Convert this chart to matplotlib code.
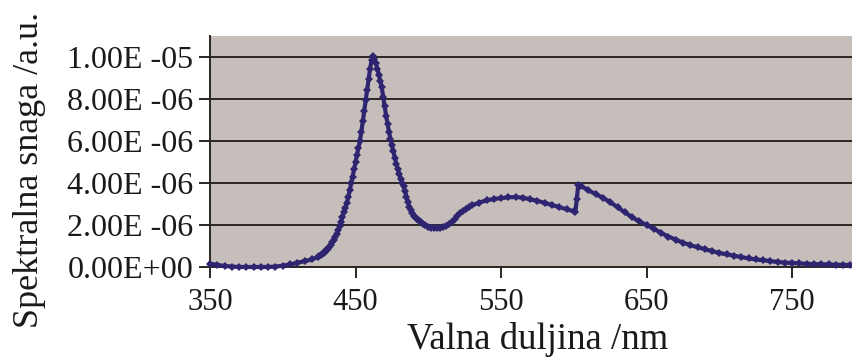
import matplotlib
matplotlib.use("Agg")
import matplotlib.pyplot as plt
import numpy as np

# wavelength (nm) and spectral power (x 1e-6 a.u.)
wavelength = [350, 355, 360, 365, 370, 375, 380, 385, 390, 395, 400, 405, 410, 415, 420, 424,
              425, 426, 427, 428, 429, 430, 431, 432, 433, 434, 435,
              436, 437, 438, 439, 440, 441, 442, 443, 444, 445, 446, 447, 448, 449,
              450, 451, 452, 453, 454, 455, 456, 457, 458, 459, 460, 461, 462, 463, 464,
              465, 466, 467, 468, 469, 470, 471, 472, 473, 474, 475, 476, 477, 478, 479,
              480, 481, 482, 483, 484, 485, 486, 487, 488, 489, 490, 491, 492, 493, 494,
              496, 498, 500, 502, 504, 506, 508, 510, 512, 514, 516, 518, 520, 522, 524,
              526, 528, 530, 535, 540, 545, 550, 555, 560, 565, 570, 575, 580, 585, 590,
              595, 600, 601, 602, 603, 605, 610, 615, 620, 625, 630, 635, 640, 645, 650,
              655, 660, 665, 670, 675, 680, 685, 690, 695, 700, 705, 710, 715, 720, 725,
              730, 735, 740, 745, 750, 755, 760, 765, 770, 775, 780, 785, 790, 795, 800]
power = [0.15, 0.10, 0.05, 0.02, 0.0, 0.0, 0.0, 0.0, 0.0, 0.02, 0.06, 0.12, 0.20, 0.28, 0.36, 0.48,
         0.52, 0.56, 0.60, 0.65, 0.72, 0.80, 0.88, 0.97, 1.07, 1.18, 1.30,
         1.42, 1.58, 1.75, 1.94, 2.15, 2.38, 2.62, 2.83, 3.05, 3.35, 3.65, 3.98, 4.30, 4.65,
         5.00, 5.35, 5.68, 6.00, 6.45, 6.95, 7.45, 7.95, 8.45, 8.95, 9.45, 9.85, 10.05, 9.90, 9.70,
         9.45, 9.15, 8.85, 8.55, 8.10, 7.65, 7.20, 6.80, 6.42, 6.08, 5.80, 5.50, 5.20, 4.90, 4.65,
         4.42, 4.20, 4.02, 3.85, 3.60, 3.35, 3.10, 2.88, 2.70, 2.55, 2.45, 2.36, 2.28, 2.22, 2.17,
         2.07, 1.98, 1.92, 1.88, 1.86, 1.85, 1.85, 1.90, 1.97, 2.05, 2.15, 2.30, 2.45, 2.58, 2.68,
         2.77, 2.85, 2.93, 3.07, 3.17, 3.24, 3.28, 3.32, 3.33, 3.30, 3.22, 3.15, 3.05, 2.95, 2.85,
         2.75, 2.65, 2.60, 3.24, 3.90, 3.85, 3.65, 3.47, 3.30, 3.08, 2.85, 2.60, 2.37, 2.17, 2.00,
         1.82, 1.62, 1.45, 1.30, 1.16, 1.04, 0.94, 0.85, 0.75, 0.67, 0.60, 0.54, 0.47, 0.41, 0.36,
         0.32, 0.28, 0.24, 0.21, 0.19, 0.17, 0.15, 0.14, 0.13, 0.12, 0.11, 0.10, 0.10, 0.09, 0.09]

x_ticks = [350, 450, 550, 650, 750]
y_ticks = [0, 2e-6, 4e-6, 6e-6, 8e-6, 1e-5]
y_labels = ["0.00E+00", "2.00E -06", "4.00E -06", "6.00E -06", "8.00E -06", "1.00E -05"]

plt.rcParams['font.family'] = ['Liberation Serif', 'DejaVu Serif']

fig = plt.figure(figsize=(8.53, 3.6), dpi=100)
ax = fig.add_axes([210 / 853, 93 / 360, 655 / 853, 231 / 360])
ax.set_facecolor('#c6beba')

y = np.array(power) * 1e-6
ax.plot(wavelength, y, color='#2e2470', lw=3.0, marker='D', markersize=4.2,
        markeredgewidth=0, clip_on=False, zorder=3)

ax.set_xlim(350, 800)
ax.set_ylim(0, 1.1e-5)
ax.set_xticks(x_ticks)
ax.set_yticks(y_ticks)
ax.set_yticklabels(y_labels)
ax.grid(axis='y', color='#2a2622', lw=1.4)
ax.set_axisbelow(True)

for side in ['top', 'right']:
    ax.spines[side].set_visible(False)
for side in ['left', 'bottom']:
    ax.spines[side].set_color('#2a2622')
    ax.spines[side].set_linewidth(1.4)

ax.tick_params(axis='both', direction='out', length=8, width=1.4, color='#2a2622',
               labelcolor='#1a1a1a')
ax.tick_params(axis='y', labelsize=23, pad=4)
ax.tick_params(axis='x', labelsize=22, pad=7)

ax.set_xlabel("Valna duljina /nm", fontsize=26.5, color='#1a1a1a', labelpad=4)
ax.set_ylabel("Spektralna snaga /a.u.", fontsize=26, color='#1a1a1a')
ax.yaxis.set_label_coords(-0.25, 0.42)

fig.savefig("out.png", dpi=100)
